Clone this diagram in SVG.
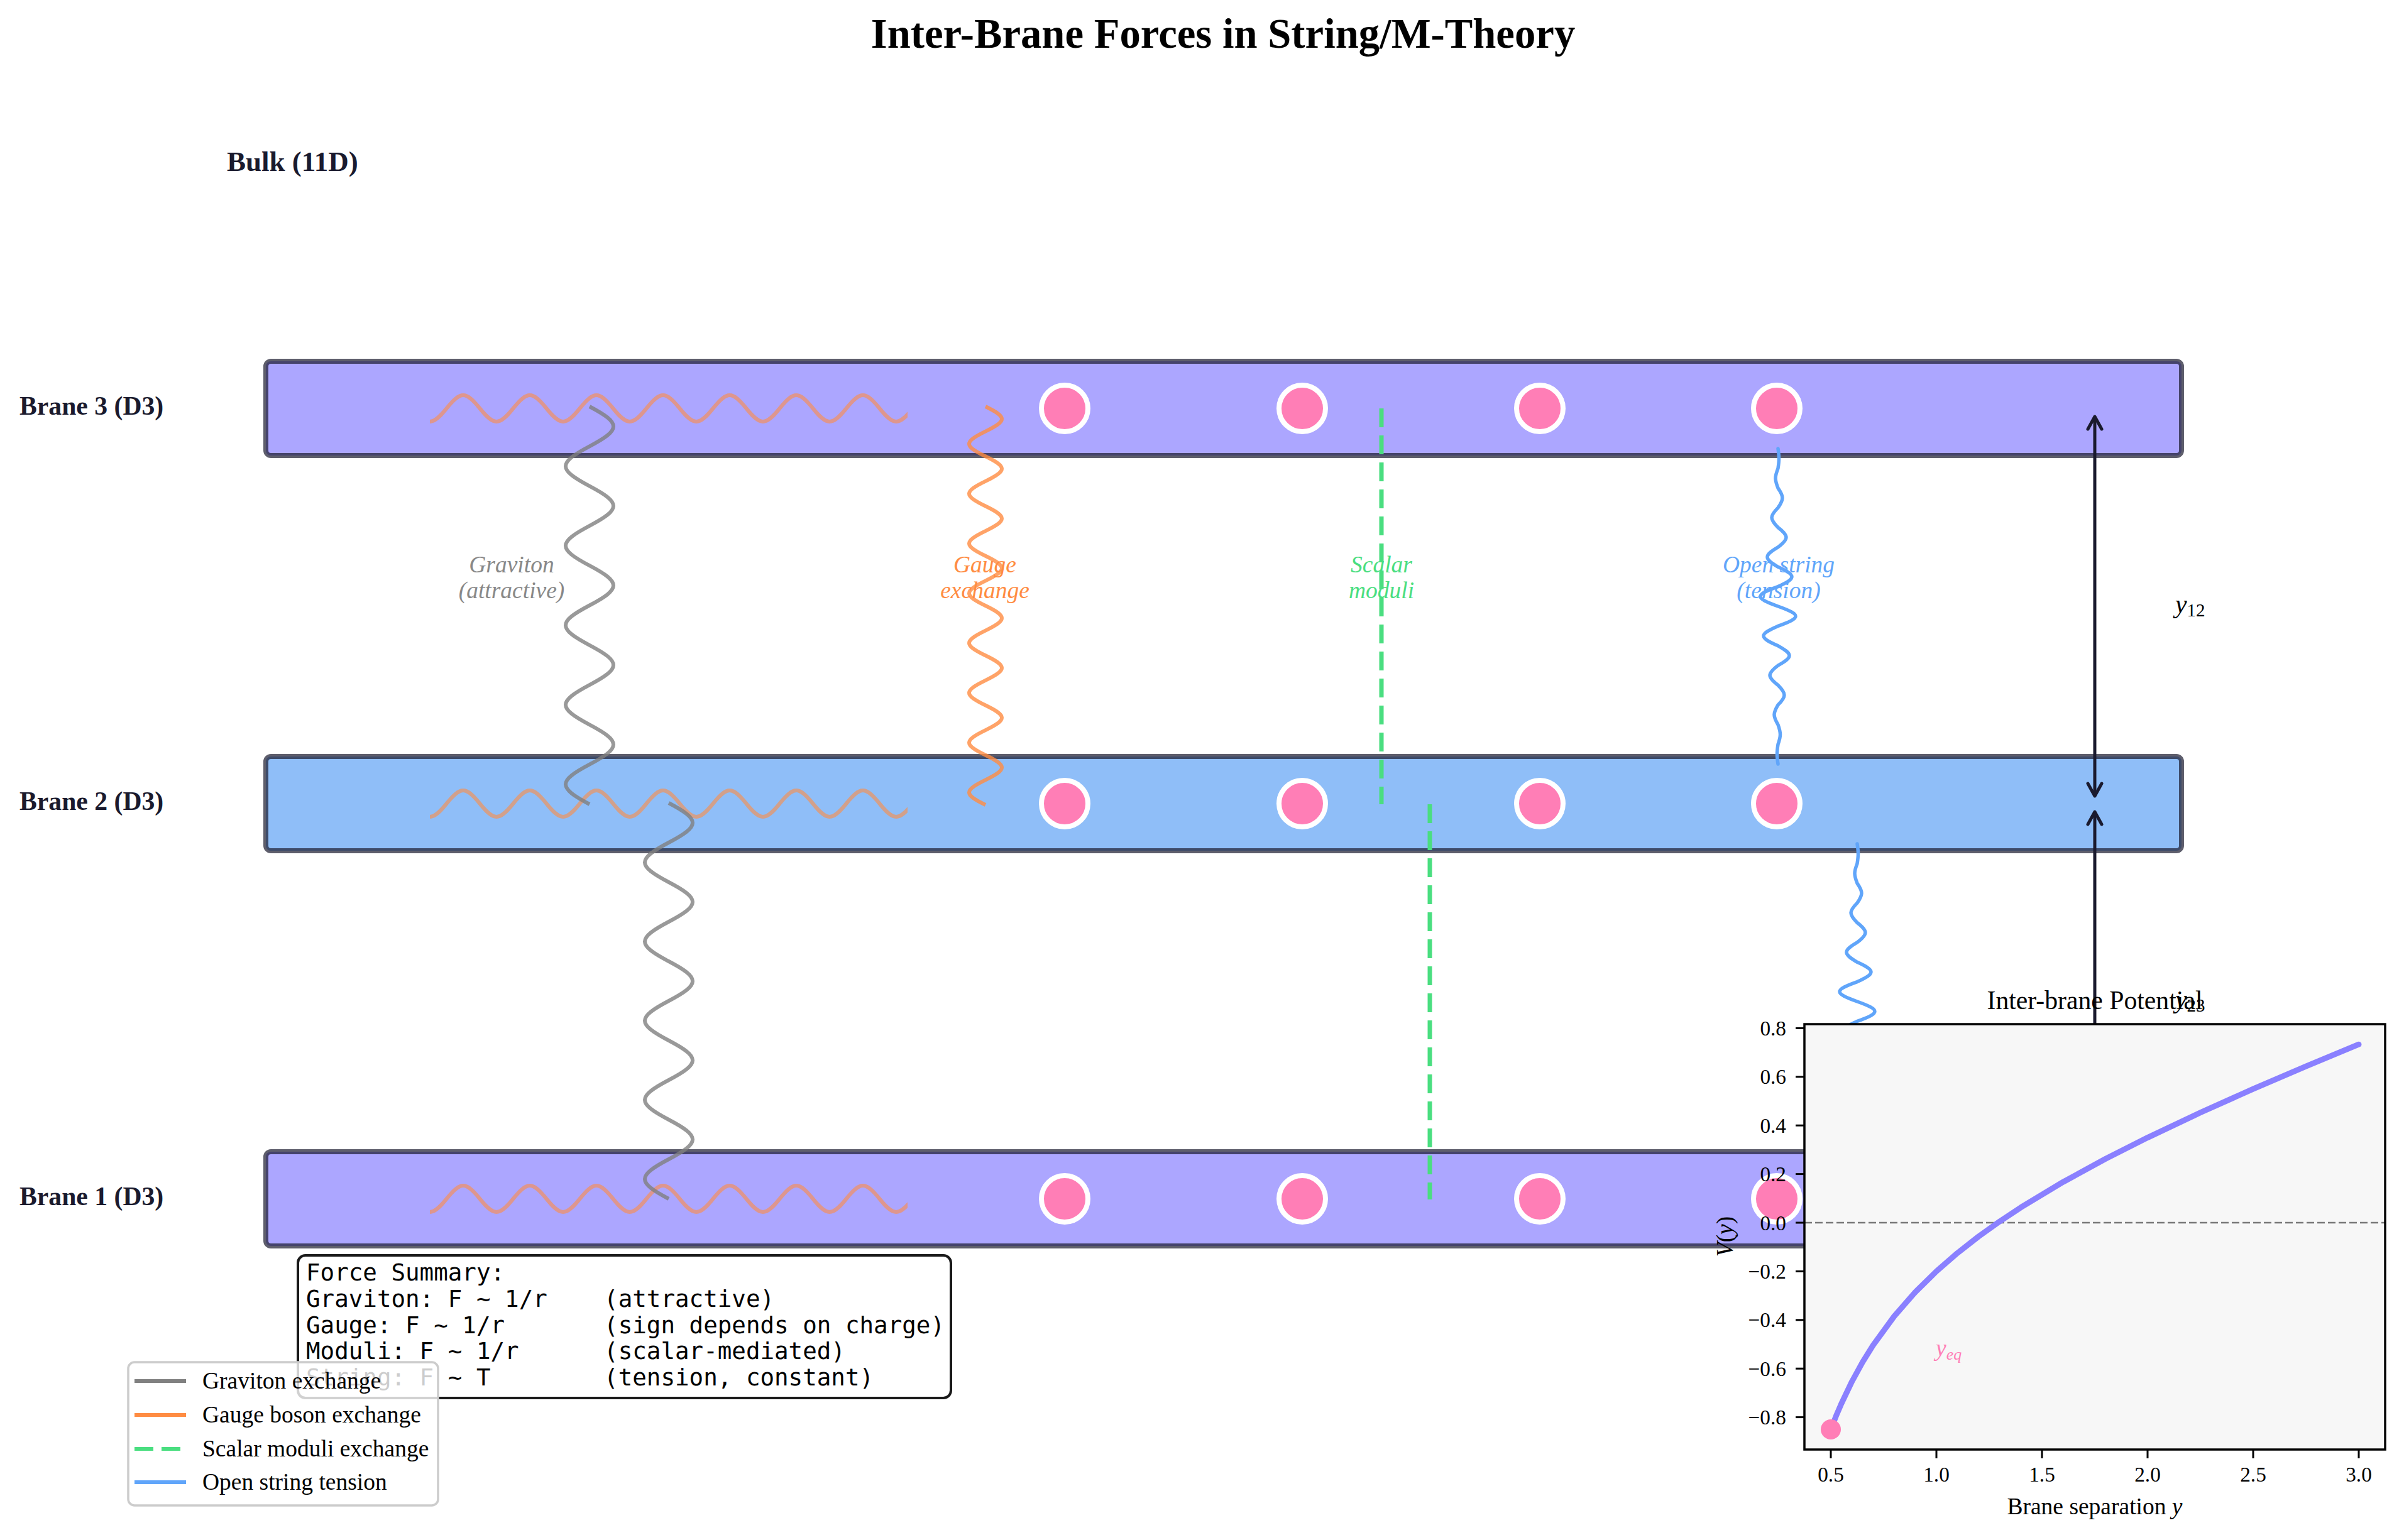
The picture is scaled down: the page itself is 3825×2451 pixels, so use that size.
<svg xmlns="http://www.w3.org/2000/svg" width="3825" height="2451" viewBox="0 0 3825 2451">
<style>
text{font-family:"Liberation Serif","Times New Roman",serif}
.blabel{font-weight:bold;font-size:41.7px;fill:#1a1a2e}
.brane{stroke:#1a1a2e;stroke-opacity:0.7;stroke-width:8}
.dot{fill:#ff7eb6;stroke:#ffffff;stroke-width:8}
.hw{fill:none;stroke:#ff8c42;stroke-opacity:0.6;stroke-width:6}
.grav{fill:none;stroke:#808080;stroke-opacity:0.8;stroke-width:6}
.gauge{fill:none;stroke:#ff8c42;stroke-opacity:0.8;stroke-width:6}
.mod{fill:none;stroke:#4ade80;stroke-width:7;stroke-dasharray:30 13}
.open{fill:none;stroke:#60a5fa;stroke-width:5.5;stroke-linecap:round}
.flabel{font-style:italic;font-size:37.5px;text-anchor:middle}
.arrow{stroke:#1a1a2e;stroke-width:5;marker-start:url(#head);marker-end:url(#head)}
.tick{stroke:#000;stroke-width:3}
.ytl{font-size:33.3px;text-anchor:end;fill:#000}
.xtl{font-size:33.3px;text-anchor:middle;fill:#000}
.mono{font-family:"DejaVu Sans Mono",monospace;font-size:37.5px;fill:#000}
.leg{font-size:37.5px;fill:#000}
</style>
<defs>
<marker id="head" markerUnits="userSpaceOnUse" viewBox="-30 -20 40 40" markerWidth="40" markerHeight="40" refX="0" refY="0" orient="auto-start-reverse" overflow="visible">
<path d="M-20,-11 L0,0 L-20,11" fill="none" stroke="#1a1a2e" stroke-width="5" stroke-linecap="round" stroke-linejoin="round"/>
</marker>
<clipPath id="hclip" clipPathUnits="userSpaceOnUse"><rect x="684" y="0" width="760" height="2451"/></clipPath>
<path id="hwave" d="M657.5,0 c22.5,28 30.5,28 53,0 s30.5,-28 53,0 s30.5,28 53,0 s30.5,-28 53,0 s30.5,28 53,0 s30.5,-28 53,0 s30.5,28 53,0 s30.5,-28 53,0 s30.5,28 53,0 s30.5,-28 53,0 s30.5,28 53,0 s30.5,-28 53,0 s30.5,28 53,0 s30.5,-28 53,0 s30.5,28 53,0"/>
<path id="openwave" d="M2829,714 C2831,727.3 2831,732.1 2829,745.4 C2823.7,758.7 2823.7,763.4 2829,776.8 C2838.3,790.1 2838.3,794.8 2829,808.1 C2815.7,821.4 2815.7,826.2 2829,839.5 C2846.3,852.8 2846.3,857.6 2829,870.9 C2806.3,884.2 2806.3,888.9 2829,902.3 C2858.3,915.6 2858.3,920.3 2829,933.6 C2791.7,946.9 2791.7,951.7 2829,965 C2866.3,978.3 2866.3,983.1 2829,996.4 C2798.3,1009.7 2798.3,1014.4 2829,1027.8 C2853,1041.1 2853,1045.8 2829,1059.1 C2811.7,1072.4 2811.7,1077.2 2829,1090.5 C2842.3,1103.8 2842.3,1108.6 2829,1121.9 C2821,1135.2 2821,1139.9 2829,1153.3 C2833.7,1166.6 2833.7,1171.3 2829,1184.6 C2827,1197.9 2827,1202.7 2829,1216"/>
</defs>
<rect width="3825" height="2451" fill="#ffffff"/>
<text x="1946" y="76" font-size="66.7" font-weight="bold" text-anchor="middle" fill="#000">Inter-Brane Forces in String/M-Theory</text>
<text x="361" y="272" font-size="45" font-weight="bold" fill="#1a1a2e">Bulk (11D)</text>

<g id="brane3">
<rect class="brane" x="423" y="575" width="3048" height="150" rx="8" fill="#aca6ff"/>
<text class="blabel" x="31" y="660">Brane 3 (D3)</text>
<g clip-path="url(#hclip)"><use href="#hwave" class="hw" transform="translate(0,650)"/></g>
<circle class="dot" cx="1694" cy="650" r="37"/><circle class="dot" cx="2072" cy="650" r="37"/><circle class="dot" cx="2450" cy="650" r="37"/><circle class="dot" cx="2827" cy="650" r="37"/>
</g>
<g id="brane2">
<rect class="brane" x="423" y="1204" width="3048" height="150" rx="8" fill="#8fbef8"/>
<text class="blabel" x="31" y="1289">Brane 2 (D3)</text>
<g clip-path="url(#hclip)"><use href="#hwave" class="hw" transform="translate(0,1279)"/></g>
<circle class="dot" cx="1694" cy="1279" r="37"/><circle class="dot" cx="2072" cy="1279" r="37"/><circle class="dot" cx="2450" cy="1279" r="37"/><circle class="dot" cx="2827" cy="1279" r="37"/>
</g>
<g id="brane1">
<rect class="brane" x="423" y="1833" width="3048" height="150" rx="8" fill="#aca6ff"/>
<text class="blabel" x="31" y="1918">Brane 1 (D3)</text>
<g clip-path="url(#hclip)"><use href="#hwave" class="hw" transform="translate(0,1908)"/></g>
<circle class="dot" cx="1694" cy="1908" r="37"/><circle class="dot" cx="2072" cy="1908" r="37"/><circle class="dot" cx="2450" cy="1908" r="37"/><circle class="dot" cx="2827" cy="1908" r="37"/>
</g>

<g id="force-labels">
<text class="flabel" fill="#888888"><tspan x="814" y="911">Graviton</tspan><tspan x="814" y="952">(attractive)</tspan></text>
<text class="flabel" fill="#ff8c42"><tspan x="1567" y="911">Gauge</tspan><tspan x="1567" y="952">exchange</tspan></text>
<text class="flabel" fill="#4ade80"><tspan x="2198" y="911">Scalar</tspan><tspan x="2198" y="952">moduli</tspan></text>
<text class="flabel" fill="#60a5fa"><tspan x="2830" y="911">Open string</tspan><tspan x="2830" y="952">(tension)</tspan></text>
</g>

<g id="connectors">
<path class="grav" d="M938,647 c50.7,26.85 50.7,36.46 0,63.3 s-50.7,36.46 0,63.3 s50.7,36.46 0,63.3 s-50.7,36.46 0,63.3 s50.7,36.46 0,63.3 s-50.7,36.46 0,63.3 s50.7,36.46 0,63.3 s-50.7,36.46 0,63.3 s50.7,36.46 0,63.3 s-50.7,36.46 0,63.3"/>
<path class="grav" d="M1064,1278 c50.7,26.7 50.7,36.3 0,63 s-50.7,36.3 0,63 s50.7,36.3 0,63 s-50.7,36.3 0,63 s50.7,36.3 0,63 s-50.7,36.3 0,63 s50.7,36.3 0,63 s-50.7,36.3 0,63 s50.7,36.3 0,63 s-50.7,36.3 0,63"/>
<path class="gauge" d="M1568,647 c34.7,16.8 34.7,22.8 0,39.625 s-34.7,22.8 0,39.625 s34.7,22.8 0,39.625 s-34.7,22.8 0,39.625 s34.7,22.8 0,39.625 s-34.7,22.8 0,39.625 s34.7,22.8 0,39.625 s-34.7,22.8 0,39.625 s34.7,22.8 0,39.625 s-34.7,22.8 0,39.625 s34.7,22.8 0,39.625 s-34.7,22.8 0,39.625 s34.7,22.8 0,39.625 s-34.7,22.8 0,39.625 s34.7,22.8 0,39.625 s-34.7,22.8 0,39.625"/>
<line class="mod" x1="2198" y1="650" x2="2198" y2="1280"/>
<line class="mod" x1="2275" y1="1280" x2="2275" y2="1909"/>
<use href="#openwave" class="open"/>
<use href="#openwave" class="open" transform="translate(126,629)"/>
<line class="arrow" x1="3333" y1="663" x2="3333" y2="1267"/>
<line class="arrow" x1="3333" y1="1292" x2="3333" y2="1896"/>
</g>
<text x="3461" y="975" font-size="41.7" font-style="italic" fill="#000">y<tspan font-style="normal" font-size="29" dy="6">12</tspan></text>
<text x="3461" y="1604" font-size="41.7" font-style="italic" fill="#000">y<tspan font-style="normal" font-size="29" dy="6">23</tspan></text>

<g id="summary">
<rect x="474" y="1998" width="1039" height="227" rx="12" fill="#ffffff" stroke="#1a1a1a" stroke-width="4"/>
<text class="mono" xml:space="preserve"><tspan x="487" y="2038">Force Summary:</tspan><tspan x="487" y="2080">Graviton: F ~ 1/r    (attractive)</tspan><tspan x="487" y="2122">Gauge: F ~ 1/r       (sign depends on charge)</tspan><tspan x="487" y="2163">Moduli: F ~ 1/r      (scalar-mediated)</tspan><tspan x="487" y="2205">String: F ~ T        (tension, constant)</tspan></text>
</g>

<g id="legend">
<rect x="204" y="2168" width="493" height="228" rx="10" fill="#ffffff" fill-opacity="0.8" stroke="#cccccc" stroke-width="3.5"/>
<line x1="214" y1="2198" x2="296" y2="2198" stroke="#808080" stroke-width="6"/>
<line x1="214" y1="2252" x2="296" y2="2252" stroke="#ff8c42" stroke-width="6"/>
<line x1="214" y1="2306" x2="296" y2="2306" stroke="#4ade80" stroke-width="6" stroke-dasharray="30 13"/>
<line x1="214" y1="2359" x2="296" y2="2359" stroke="#60a5fa" stroke-width="6"/>
<text class="leg" x="322" y="2210">Graviton exchange</text>
<text class="leg" x="322" y="2264">Gauge boson exchange</text>
<text class="leg" x="322" y="2318">Scalar moduli exchange</text>
<text class="leg" x="322" y="2371">Open string tension</text>
</g>

<g id="inset">
<rect x="2871" y="1630" width="924" height="677" fill="#f7f7f7"/>
<line x1="2871" y1="1946" x2="3795" y2="1946" stroke="#777777" stroke-width="2.5" stroke-dasharray="12 5"/>
<polyline fill="none" stroke="#8a80ff" stroke-width="9" stroke-linejoin="round" stroke-linecap="round" points="2913,2275 2921.4,2253.6 2929.8,2234 2946.6,2198.8 2963.4,2168.2 2980.2,2141.2 3013.8,2095 3047.4,2056.5 3081,2023.4 3114.6,1994.2 3148.2,1967.9 3181.8,1943.9 3215.4,1921.7 3282.6,1881.2 3349.8,1844.5 3417,1810.6 3501,1770.8 3585,1733.2 3669,1697.1 3753,1662.2"/>
<circle cx="2913" cy="2275" r="16" fill="#ff7eb6"/>
<text x="3080" y="2158" font-size="37.5" font-style="italic" fill="#ff7eb6">y<tspan font-size="26" dy="6">eq</tspan></text>
<rect x="2871" y="1630" width="924" height="677" fill="none" stroke="#000" stroke-width="3.5"/>
<g class="tick">
<line x1="2857" y1="1636.4" x2="2871" y2="1636.4"/><line x1="2857" y1="1713.8" x2="2871" y2="1713.8"/><line x1="2857" y1="1791.2" x2="2871" y2="1791.2"/><line x1="2857" y1="1868.6" x2="2871" y2="1868.6"/><line x1="2857" y1="1946" x2="2871" y2="1946"/><line x1="2857" y1="2023.4" x2="2871" y2="2023.4"/><line x1="2857" y1="2100.8" x2="2871" y2="2100.8"/><line x1="2857" y1="2178.2" x2="2871" y2="2178.2"/><line x1="2857" y1="2255.6" x2="2871" y2="2255.6"/>
<line x1="2913" y1="2307" x2="2913" y2="2321"/><line x1="3081" y1="2307" x2="3081" y2="2321"/><line x1="3249" y1="2307" x2="3249" y2="2321"/><line x1="3417" y1="2307" x2="3417" y2="2321"/><line x1="3585" y1="2307" x2="3585" y2="2321"/><line x1="3753" y1="2307" x2="3753" y2="2321"/>
</g>
<text class="ytl" x="2842" y="1648">0.8</text><text class="ytl" x="2842" y="1725">0.6</text><text class="ytl" x="2842" y="1803">0.4</text><text class="ytl" x="2842" y="1880">0.2</text><text class="ytl" x="2842" y="1958">0.0</text><text class="ytl" x="2842" y="2035">−0.2</text><text class="ytl" x="2842" y="2112">−0.4</text><text class="ytl" x="2842" y="2190">−0.6</text><text class="ytl" x="2842" y="2267">−0.8</text>
<text class="xtl" x="2913" y="2358">0.5</text><text class="xtl" x="3081" y="2358">1.0</text><text class="xtl" x="3249" y="2358">1.5</text><text class="xtl" x="3417" y="2358">2.0</text><text class="xtl" x="3585" y="2358">2.5</text><text class="xtl" x="3753" y="2358">3.0</text>
<text x="3333" y="2410" font-size="37.5" text-anchor="middle" fill="#000">Brane separation <tspan font-style="italic">y</tspan></text>
<text transform="translate(2757,1968) rotate(-90)" font-size="37.5" text-anchor="middle" fill="#000"><tspan font-style="italic">V</tspan>(<tspan font-style="italic">y</tspan>)</text>
<text x="3333" y="1606" font-size="41.7" text-anchor="middle" fill="#000">Inter-brane Potential</text>
</g>
</svg>
